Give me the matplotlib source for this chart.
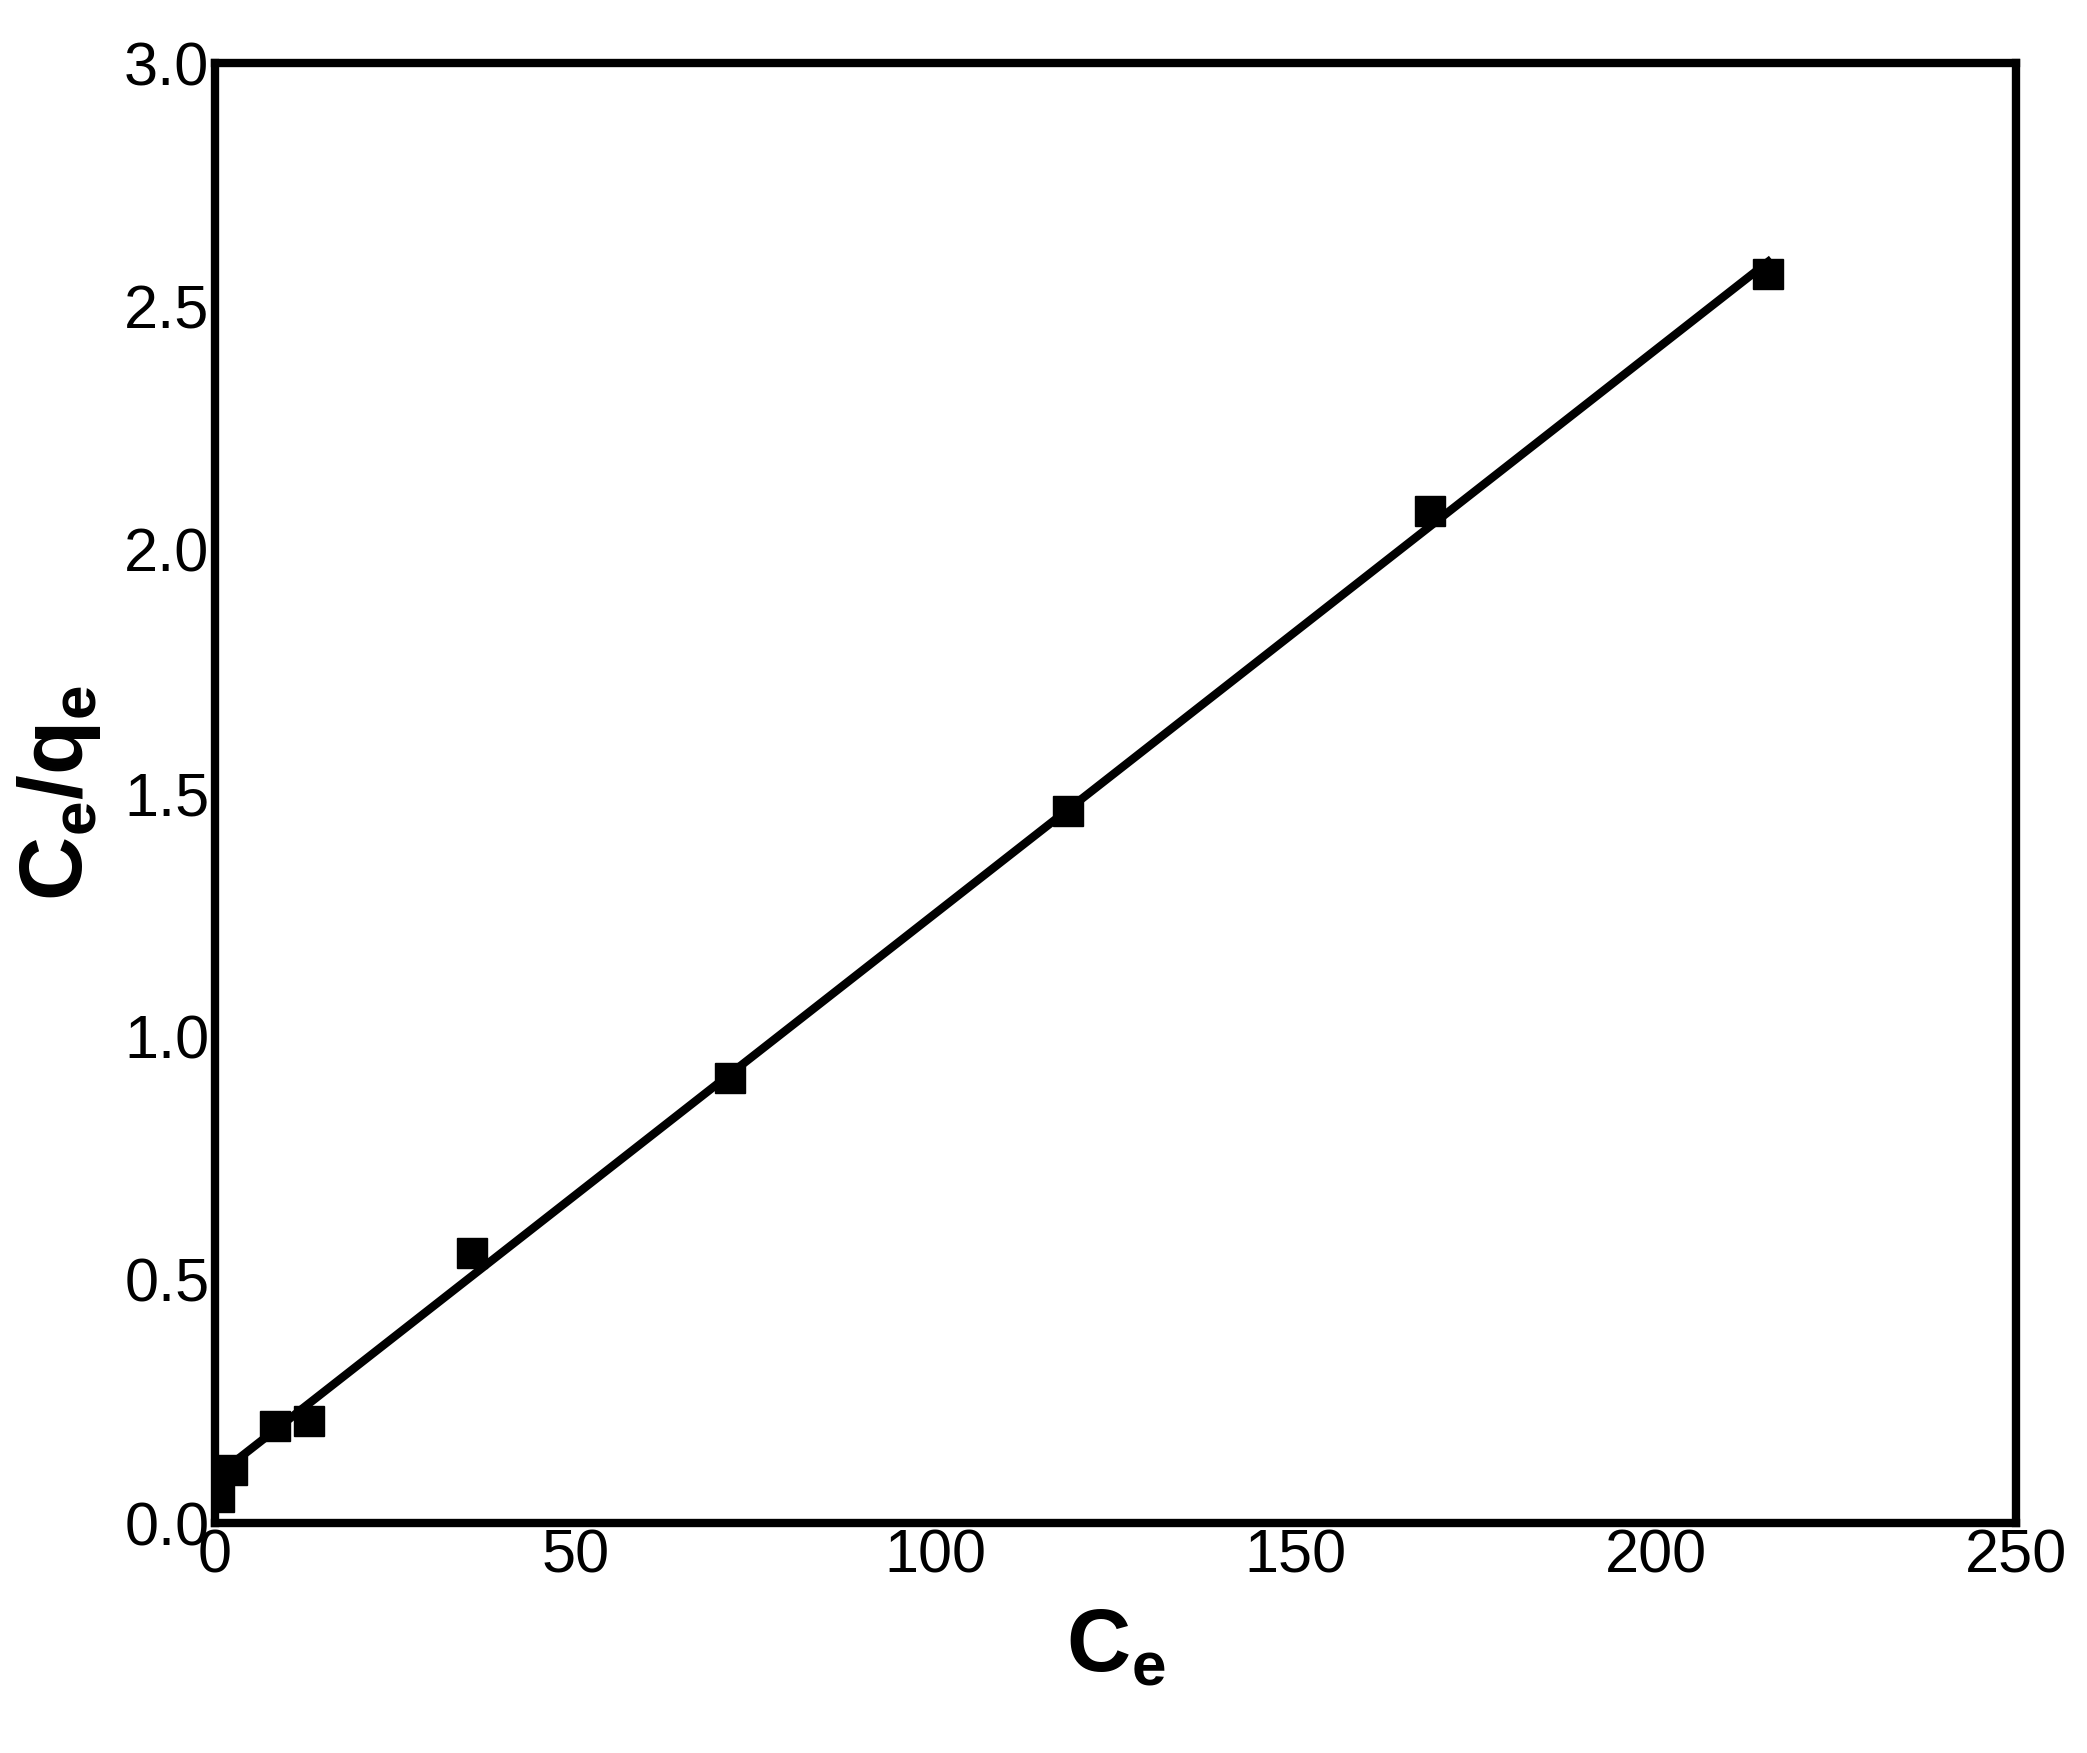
import numpy as np
import matplotlib
matplotlib.use("Agg")
import matplotlib.pyplot as plt

ce = [0.55, 2.4, 8.3, 13.1, 35.7, 71.5, 118.4, 168.7, 215.6]
ce_qe = [0.055, 0.11, 0.2, 0.21, 0.555, 0.915, 1.464, 2.08, 2.566]

plt.rcParams['font.family'] = ['Liberation Sans', 'DejaVu Sans']
plt.rcParams['mathtext.fontset'] = 'custom'
plt.rcParams['mathtext.bf'] = 'Liberation Sans:bold'
plt.rcParams['mathtext.rm'] = 'Liberation Sans'
fig = plt.figure(figsize=(20.87, 17.53), dpi=100)
ax = fig.add_axes([0.103, 0.131, 0.863, 0.833])

m, b = np.polyfit(ce[1:], ce_qe[1:], 1)
xl = np.array([ce[1], ce[-1]])
ax.plot(xl, m*xl + b, color='black', lw=6)
ax.plot(ce, ce_qe, 's', color='black', ms=22)

ax.set_xlim(0, 250)
ax.set_ylim(0, 3.0)
ax.set_xticks([0, 50, 100, 150, 200, 250])
ax.set_yticks([0, 0.5, 1.0, 1.5, 2.0, 2.5, 3.0])
ax.set_yticklabels(['0.0', '0.5', '1.0', '1.5', '2.0', '2.5', '3.0'])
ax.tick_params(length=0, labelsize=44, pad=4)
for s in ax.spines.values():
    s.set_linewidth(6)
ax.set_xlabel(r'$\mathbf{C_e}$', fontsize=64, labelpad=15)
ax.set_ylabel(r'$\mathbf{C_e/q_e}$', fontsize=64, labelpad=15)
fig.savefig('out.png', dpi=100)
